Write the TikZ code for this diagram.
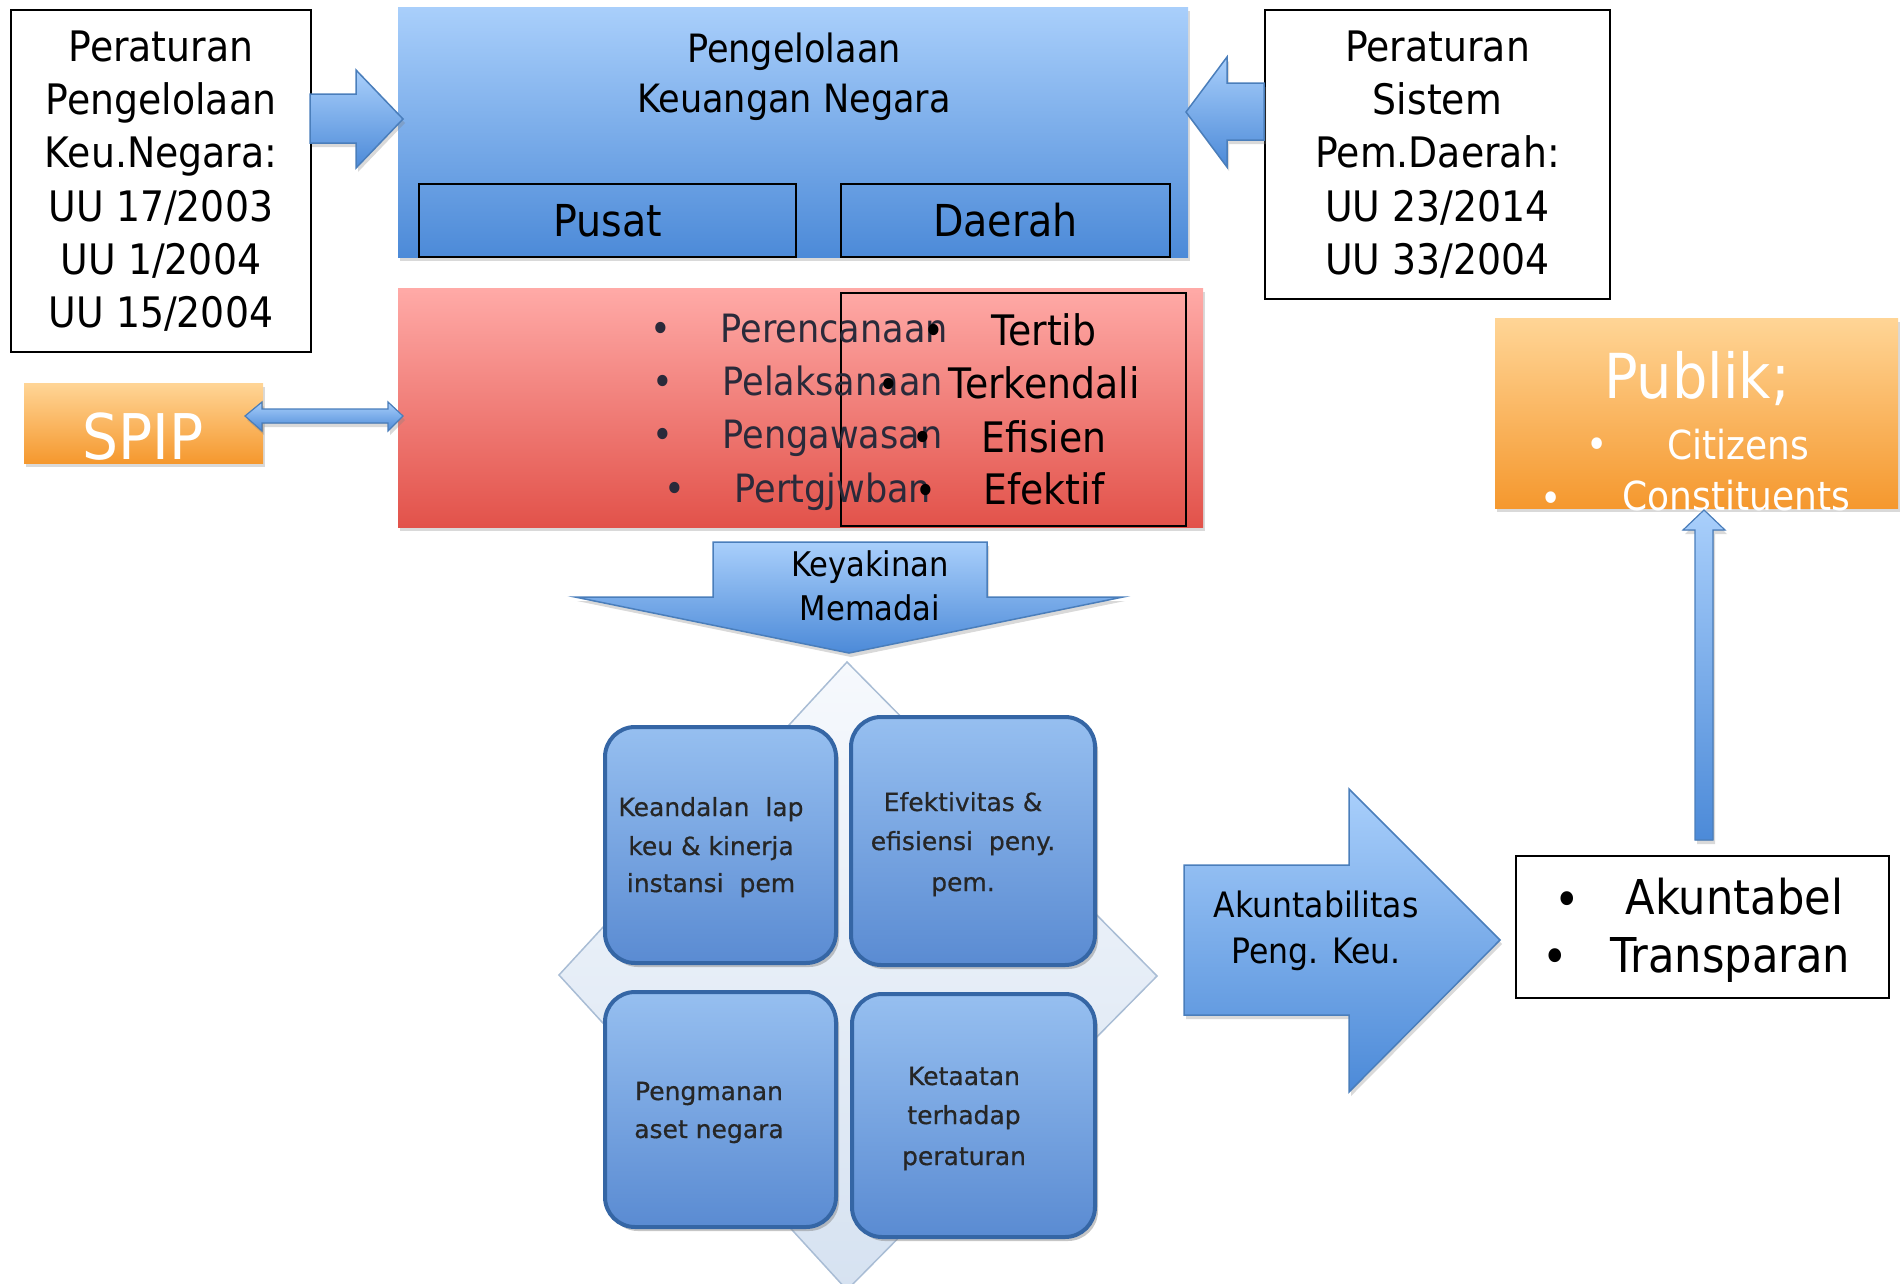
\documentclass[tikz,border=0pt]{standalone}
\usepackage{fontspec}
\setmainfont{DejaVu Sans}[FakeStretch=0.9]
\newfontfamily\verd{DejaVu Sans}[FakeBold=0.6]
\usetikzlibrary{shadows}
\newcommand\fsz[1]{\fontsize{#1}{#1}\selectfont}
\definecolor{bT}{HTML}{A9CFFB}
\definecolor{bB}{HTML}{4C8AD8}
\definecolor{bE}{HTML}{4A7EBB}
\definecolor{rT}{HTML}{FFAAA7}
\definecolor{rB}{HTML}{E2524A}
\definecolor{oT}{HTML}{FFD596}
\definecolor{oB}{HTML}{F5982E}
\definecolor{qT}{HTML}{96BFF0}
\definecolor{qB}{HTML}{5A8BD2}
\definecolor{qE}{HTML}{3566A5}
\definecolor{dT}{HTML}{F6F9FD}
\definecolor{dB}{HTML}{D6E2F1}
\definecolor{dE}{HTML}{A9BDD5}
\definecolor{lst}{HTML}{2A2A3A}
\begin{document}
\begin{tikzpicture}[x=1pt,y=-1pt,
  plain/.style={draw=black, line width=2pt, inner sep=0pt, anchor=north west},
  shd/.style={drop shadow={opacity=0.3, shadow xshift=2pt, shadow yshift=-4pt}},
  bshade/.style={top color=bT, bottom color=bB},
  barrow/.style={bshade, draw=bE, line width=1.5pt, line join=miter, shd},
  rbox/.style={inner sep=0pt, anchor=north west, shd},
  quad/.style={inner sep=0pt, anchor=north west,
    drop shadow={opacity=0.45, shadow xshift=3pt, shadow yshift=-4pt},
    top color=qT, bottom color=qB, draw=qE, line width=4pt, rounded corners=30pt},
  qtxt/.style={anchor=base, font={\verd\fsz{25}}, text=black!85},
  ltxt/.style={anchor=base west, font=\fsz{39}, text=lst},
  lbul/.style={anchor=base, font=\fsz{39}, text=lst},
  ttxt/.style={anchor=base, font=\fsz{42}, text=black},
  tbul/.style={anchor=base, font=\fsz{39}, text=black},
  wtxt/.style={text=white}
]
\useasboundingbox (0,0) rectangle (1901,1283);

% diamond background
\filldraw[top color=dT, bottom color=dB, draw=dE, line width=1.5pt]
  (847,662) -- (1157,976) -- (847,1290) -- (559,975) -- cycle;

% left regulation box
\node[plain, minimum width=300pt, minimum height=342pt, align=center,
  font={\fontsize{42}{53.3}\selectfont}] (lbox) at (10,9)
  {Peraturan\\Pengelolaan\\Keu.Negara:\\UU 17/2003\\UU 1/2004\\UU 15/2004};

% right regulation box
\node[plain, minimum width=345pt, minimum height=289pt, align=center,
  font={\fontsize{42}{53.3}\selectfont}] (rbox) at (1264,9)
  {Peraturan\\Sistem\\Pem.Daerah:\\UU 23/2014\\UU 33/2004};

% main blue box
\node[rbox, bshade, minimum width=790pt, minimum height=250pt] (pkn) at (398,7) {};
\node[anchor=base, font=\fsz{39}] (pkn1) at (794,62) {Pengelolaan};
\node[anchor=base, font=\fsz{39}] (pkn2) at (794,112) {Keuangan Negara};
\node[plain, minimum width=377pt, minimum height=73pt, font=\fsz{44}] (pusat) at (418,183) {Pusat};
\node[plain, minimum width=329pt, minimum height=73pt, font=\fsz{44}] (daerah) at (840,183) {Daerah};

% red box
\node[rbox, top color=rT, bottom color=rB, minimum width=805pt, minimum height=239pt] (red) at (398,288) {};
\node[plain, minimum width=345pt, minimum height=233pt] (redin) at (840,292) {};
\node[lbul] (b1) at (661,342) {•};
\node[lbul] (b2) at (663,395) {•};
\node[lbul] (b3) at (663,448) {•};
\node[lbul] (b4) at (675,502) {•};
\node[ltxt] (l1) at (717,342) {Perencanaan};
\node[ltxt] (l2) at (719,395) {Pelaksanaan};
\node[ltxt] (l3) at (719,448) {Pengawasan};
\node[ltxt] (l4) at (731,502) {Pertgjwban};
\node[tbul] (c1) at (934,344) {•};
\node[tbul] (c2) at (889,398) {•};
\node[tbul] (c3) at (923,451) {•};
\node[tbul] (c4) at (926,504) {•};
\node[ttxt] (t1) at (1044,345) {Tertib};
\node[ttxt] (t2) at (1044,398) {Terkendali};
\node[ttxt] (t3) at (1044,452) {Efisien};
\node[ttxt] (t4) at (1044,504) {Efektif};

% SPIP
\node[rbox, top color=oT, bottom color=oB, minimum width=239pt, minimum height=80pt] (spip) at (24,383) {};
\node[anchor=base, font=\fsz{63}, wtxt] (spipt) at (143,459) {SPIP};

% Publik
\node[rbox, top color=oT, bottom color=oB, minimum width=403pt, minimum height=190pt] (pub) at (1495,318) {};
\node[anchor=base, font=\fsz{62}, wtxt] (pubt) at (1697,398) {Publik;};
\node[anchor=base, font=\fsz{40}, wtxt] (pb1) at (1597,458) {•};
\node[anchor=base west, font=\fsz{40}, wtxt] (pc1) at (1664,459) {Citizens};
\node[anchor=base, font=\fsz{40}, wtxt] (pb2) at (1551,512) {•};
\node[anchor=base west, font=\fsz{40}, wtxt] (pc2) at (1619,510) {Constituents};

% arrows into main box
\filldraw[barrow] (310,94) -- (356,94) -- (356,70) -- (403,119) -- (356,168) -- (356,143) -- (310,143) -- cycle;
\filldraw[barrow] (1264,83) -- (1227,83) -- (1227,57) -- (1186,112) -- (1227,167) -- (1227,140) -- (1264,140) -- cycle;

% double arrow SPIP <-> red
\filldraw[barrow, line width=1.2pt] (245,416) -- (262,402) -- (262,409) -- (388,409) -- (388,402) -- (403,416)
  -- (388,431) -- (388,423) -- (262,423) -- (262,431) -- cycle;

% Keyakinan Memadai arrow
\filldraw[barrow] (713,542) -- (987,542) -- (987,597) -- (1123,597) -- (849,653) -- (575,597) -- (713,597) -- cycle;
\node[anchor=base, font=\fsz{34}] (k1) at (870,576) {Keyakinan};
\node[anchor=base, font=\fsz{34}] (k2) at (870,620) {Memadai};

% quads
\node[quad, minimum width=231pt, minimum height=236pt] (q1) at (603,725) {};
\node[quad, minimum width=244pt, minimum height=248pt] (q2) at (849,715) {};
\node[quad, minimum width=231pt, minimum height=235pt] (q3) at (603,990) {};
\node[quad, minimum width=243pt, minimum height=243pt] (q4) at (850,992) {};
\node[qtxt] (q1a) at (711,816) {Keandalan\ \ lap};
\node[qtxt] (q1b) at (711,855) {keu \& kinerja};
\node[qtxt] (q1c) at (711,892) {instansi\ \ pem};
\node[qtxt] (q2a) at (963,811) {Efektivitas \&};
\node[qtxt] (q2b) at (963,850) {efisiensi\ \ peny.};
\node[qtxt] (q2c) at (963,891) {pem.};
\node[qtxt] (q3a) at (709,1100) {Pengmanan};
\node[qtxt] (q3b) at (709,1138) {aset negara};
\node[qtxt] (q4a) at (964,1085) {Ketaatan};
\node[qtxt] (q4b) at (964,1124) {terhadap};
\node[qtxt] (q4c) at (964,1165) {peraturan};

% Akuntabilitas arrow
\filldraw[barrow] (1184,865) -- (1349,865) -- (1349,789) -- (1500,940) -- (1349,1092) -- (1349,1015) -- (1184,1015) -- cycle;
\node[anchor=base, font=\fsz{35}] (a1) at (1316,917) {Akuntabilitas};
\node[anchor=base, font=\fsz{35}] (a2) at (1316,963) {Peng. Keu.};

% Akuntabel box
\node[plain, minimum width=373pt, minimum height=142pt] (akb) at (1515,855) {};
\node[anchor=base, font=\fsz{48}] (ab1) at (1567,916) {•};
\node[anchor=base, font=\fsz{48}] (ab2) at (1555,973) {•};
\node[anchor=base west, font=\fsz{48}] (at1) at (1622,914) {Akuntabel};
\node[anchor=base west, font=\fsz{48}] (at2) at (1607,972) {Transparan};

% up arrow to Publik
\filldraw[barrow, line width=1.2pt] (1695,840) -- (1695,530) -- (1683,530) -- (1704,510) -- (1725,530) -- (1713,530) -- (1713,840) -- cycle;
\end{tikzpicture}
\end{document}
